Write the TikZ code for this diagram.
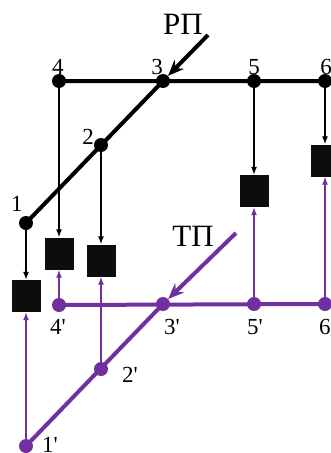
\documentclass[tikz,border=0pt]{standalone}
\usepackage{fontspec}
\setmainfont{Liberation Serif}
\usetikzlibrary{arrows.meta}
\definecolor{tpviolet}{RGB}{112,48,160}

\begin{document}
\begin{tikzpicture}[x=1pt,y=-1pt,
    junc/.style={circle,fill,inner sep=0pt,minimum size=14pt},
    blk/.style={fill=black!95,inner sep=0pt,minimum width=29pt,minimum height=32pt},
    num/.style={font=\fontsize{23}{23}\selectfont,inner sep=0pt},
    big/.style={font=\fontsize{31}{31}\selectfont,inner sep=0pt},
    thin arr/.style={line width=1.3pt,-{Latex[length=8pt,width=6pt]}},
    main/.style={line width=4pt},
    feed/.style={line width=4pt,-{Stealth[length=16pt,width=13pt]}}]
  \useasboundingbox (0,0) rectangle (331,453);
  % points of the upper plane
  \node[junc] (p4) at (59,81) {};
  \node[junc] (p3) at (163,81) {};
  \node[junc] (p5) at (254,81) {};
  \node[junc] (p6) at (325,81) {};
  \node[junc] (p2) at (101,145) {};
  \node[junc] (p1) at (26,223) {};
  \draw[main] (p4.center) -- (p6.center) (p1.center) -- (p3.center);
  \coordinate (rp) at (208,35);
  \draw[feed] (rp) -- (p3);
  % points of the lower plane
  \begin{scope}[tpviolet]
  \node[junc] (q4) at (59,305) {};
  \node[junc] (q3) at (163,304) {};
  \node[junc] (q5) at (254,304) {};
  \node[junc] (q6) at (325,304) {};
  \node[junc] (q2) at (101,369) {};
  \node[junc] (q1) at (26,446) {};
  \draw[main] (q4.center) -- (q6.center) (q1.center) -- (q3.center);
  \coordinate (tp) at (236,233);
  \draw[feed] (tp) -- (q3);
  \end{scope}
  % blocks
  \node[blk] (b1) at (26,296) {};
  \node[blk] (b4) at (59,253.5) {};
  \node[blk] (b2) at (101,260.5) {};
  \node[blk] (b5) at (254,191) {};
  \node[blk] (b6) at (325,160.5) {};
  \foreach \i in {1,2,4,5,6}{
    \draw[thin arr] (p\i) -- (b\i);
    \draw[thin arr,tpviolet] (q\i) -- (b\i);
  }
  % labels
  \node[big] (rpl) at (183,24) {РП};
  \node[big] (tpl) at (193,236) {ТП};
  \node[num] (l4) at (58,67) {4};
  \node[num] (l3) at (157,67) {3};
  \node[num] (l5) at (254,67) {5};
  \node[num] (l6) at (326,67) {6};
  \node[num] (l2) at (88,137) {2};
  \node[num] (l1) at (17,204) {1};
  \node[num] (m4) at (58,327) {4\textquotesingle};
  \node[num] (m3) at (172,327) {3\textquotesingle};
  \node[num] (m5) at (255,327) {5\textquotesingle};
  \node[num] (m6) at (327,327) {6\textquotesingle};
  \node[num] (m2) at (130,375) {2\textquotesingle};
  \node[num] (m1) at (50,445) {1\textquotesingle};
\end{tikzpicture}
\end{document}
